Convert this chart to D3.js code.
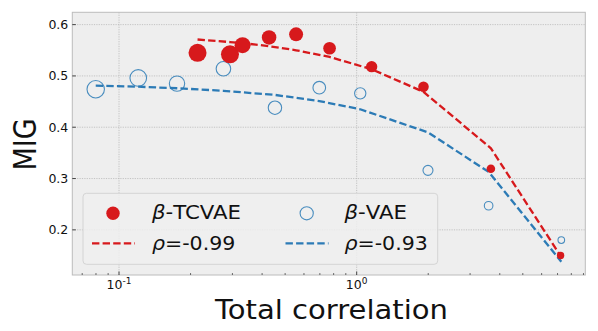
<!DOCTYPE html>
<meta charset="utf-8">
<style>
  body { margin: 0; background: #fff; }
  svg { font-family: "DejaVu Sans", sans-serif; }
  .grid line { stroke: #b8b8b8; stroke-width: 0.8; stroke-dasharray: 1.2,1.2; }
  .tick-label { font-size: 12.5px; fill: #111; }
  .fit { fill: none; stroke-width: 2.3; stroke-dasharray: 7.4,3.2; }
</style>
<svg width="598" height="331"></svg>
<script src="https://cdnjs.cloudflare.com/ajax/libs/d3/7.8.5/d3.min.js"></script>
<script>

// beta-TCVAE runs
var tcvaeTC   = [0.214, 0.293, 0.331, 0.428, 0.556, 0.769, 1.156, 1.91, 3.67, 7.21],
    tcvaeMIG  = [0.545, 0.542, 0.560, 0.575, 0.581, 0.554, 0.518, 0.479, 0.319, 0.150],
    tcvaeFit  = [0.571, 0.566, 0.564, 0.558, 0.550, 0.537, 0.513, 0.469, 0.359, 0.149],
    tcvaeArea = [81, 81, 64, 53, 49, 40, 32, 28, 18.5, 13.7];

// beta-VAE runs
var vaeTC   = [0.0798, 0.1205, 0.1754, 0.275, 0.453, 0.696, 1.035, 1.995, 3.59, 7.26],
    vaeMIG  = [0.474, 0.496, 0.485, 0.514, 0.438, 0.477, 0.466, 0.316, 0.247, 0.180],
    vaeFit  = [0.481, 0.479, 0.476, 0.471, 0.463, 0.451, 0.435, 0.390, 0.313, 0.138],
    vaeArea = [76, 69, 59, 53, 45, 40, 32, 25, 18.5, 11];

var yTicks = [0.2, 0.3, 0.4, 0.5, 0.6],
    xMajor = [0.1, 1],
    xMinor = [0.07, 0.08, 0.09, 0.2, 0.3, 0.4, 0.5, 0.6, 0.7, 0.8, 0.9,
              2, 3, 4, 5, 6, 7, 8, 9];

var red = "#d7191c", blue = "#2c7bb6";

var svg = d3.select("svg"),
    margin = {top: 12.3, right: 12.7, bottom: 56, left: 72.3},
    width = +svg.attr("width") - margin.left - margin.right,
    height = +svg.attr("height") - margin.top - margin.bottom;

var g = svg.append("g").attr("transform", "translate(" + margin.left + "," + margin.top + ")");

var x = d3.scaleLog().domain([0.0636, 9.16]).range([0, width]);
var y = d3.scaleLinear().domain([0.112, 0.624]).range([height, 0]);
var r = d3.scaleSqrt().domain([0, 81]).range([0, 9]);

g.append("rect").attr("width", width).attr("height", height).attr("fill", "#eeeeee");

// grid
var grid = g.append("g").attr("class", "grid");
grid.selectAll(".gy").data(yTicks).enter().append("line")
    .attr("x1", 0).attr("x2", width)
    .attr("y1", function(d) { return y(d); }).attr("y2", function(d) { return y(d); });
grid.selectAll(".gx").data(xMajor).enter().append("line")
    .attr("y1", 0).attr("y2", height)
    .attr("x1", function(d) { return x(d); }).attr("x2", function(d) { return x(d); });

// fit lines
var line = d3.line().x(function(d) { return x(d[0]); }).y(function(d) { return y(d[1]); });
g.append("path").attr("class", "fit").attr("stroke", blue)
    .attr("d", line(d3.zip(vaeTC, vaeFit)));
g.append("path").attr("class", "fit").attr("stroke", red)
    .attr("d", line(d3.zip(tcvaeTC, tcvaeFit)));

// points
g.selectAll(".vae").data(d3.zip(vaeTC, vaeMIG, vaeArea)).enter().append("circle")
    .attr("cx", function(d) { return x(d[0]); })
    .attr("cy", function(d) { return y(d[1]); })
    .attr("r", function(d) { return r(d[2]); })
    .attr("fill", "none").attr("stroke", blue).attr("stroke-opacity", 0.85).attr("stroke-width", 1.1);
g.selectAll(".tc").data(d3.zip(tcvaeTC, tcvaeMIG, tcvaeArea)).enter().append("circle")
    .attr("cx", function(d) { return x(d[0]); })
    .attr("cy", function(d) { return y(d[1]); })
    .attr("r", function(d) { return r(d[2]); })
    .attr("fill", red);

// frame
g.append("rect").attr("width", width).attr("height", height)
    .attr("fill", "none").attr("stroke", "#bcbcbc").attr("stroke-width", 1);

// ticks (inside)
g.selectAll(".ty").data(yTicks).enter().append("line")
    .attr("x1", 0).attr("x2", 3.5)
    .attr("y1", function(d) { return y(d); }).attr("y2", function(d) { return y(d); })
    .attr("stroke", "#333").attr("stroke-width", 0.9);
g.selectAll(".tx").data(xMajor).enter().append("line")
    .attr("y1", height).attr("y2", height - 3.5)
    .attr("x1", function(d) { return x(d); }).attr("x2", function(d) { return x(d); })
    .attr("stroke", "#333").attr("stroke-width", 0.9);
g.selectAll(".tm").data(xMinor).enter().append("line")
    .attr("y1", height).attr("y2", height - 2)
    .attr("x1", function(d) { return x(d); }).attr("x2", function(d) { return x(d); })
    .attr("stroke", "#333").attr("stroke-width", 0.7);

// tick labels
g.selectAll(".ly").data(yTicks).enter().append("text")
    .attr("class", "tick-label")
    .attr("x", -4).attr("y", function(d) { return y(d); })
    .attr("dy", "0.36em").attr("text-anchor", "end")
    .text(function(d) { return d3.format(".1f")(d); });
var xl = g.selectAll(".lx").data(xMajor).enter().append("text")
    .attr("class", "tick-label")
    .attr("x", function(d) { return x(d); }).attr("y", height + 14.3)
    .attr("text-anchor", "middle");
xl.append("tspan").text("10");
xl.append("tspan").attr("dy", -5).attr("font-size", "9px")
    .text(function(d) { return String(Math.round(Math.log10(d))); });

// axis titles (the reference text is a bit wide for its height)
svg.append("text").attr("x", 215).attr("y", 318.5)
    .attr("font-size", "26px").attr("fill", "#111")
    .attr("textLength", 233).attr("lengthAdjust", "spacingAndGlyphs")
    .text("Total correlation");
svg.append("text")
    .attr("transform", "translate(36," + 144.5 + ") scale(1.15,1) rotate(-90)")
    .attr("text-anchor", "middle").attr("font-size", "27px").attr("fill", "#111")
    .text("MIG");

// legend
var lg = svg.append("g");
lg.append("rect").attr("x", 83).attr("y", 193.3).attr("width", 354.7).attr("height", 71)
    .attr("rx", 3.5).attr("fill", "#eeeeee").attr("fill-opacity", 0.85)
    .attr("stroke", "#d4d4d4").attr("stroke-width", 1);
lg.append("circle").attr("cx", 113).attr("cy", 213.3).attr("r", 6.7).attr("fill", red);
lg.append("circle").attr("cx", 306.7).attr("cy", 213.3).attr("r", 6.6)
    .attr("fill", "none").attr("stroke", blue).attr("stroke-opacity", 0.85).attr("stroke-width", 1.1);
lg.append("line").attr("class", "fit").attr("stroke", red)
    .attr("x1", 92).attr("x2", 135).attr("y1", 243.3).attr("y2", 243.3);
lg.append("line").attr("class", "fit").attr("stroke", blue)
    .attr("x1", 285.5).attr("x2", 328.5).attr("y1", 243.3).attr("y2", 243.3);

function legendText(px, py, len, greek, rest) {
  var t = lg.append("text").attr("x", px).attr("y", py).attr("font-size", "19.5px").attr("fill", "#111")
      .attr("textLength", len).attr("lengthAdjust", "spacingAndGlyphs");
  t.append("tspan").attr("font-style", "italic").text(greek);
  t.append("tspan").text(rest);
}
legendText(152, 218.5, 89, "β", "-TCVAE");
legendText(344.5, 218.5, 62.5, "β", "-VAE");
legendText(152, 250.3, 83.3, "ρ", "=-0.99");
legendText(344.5, 250.3, 83.3, "ρ", "=-0.93");

</script>
